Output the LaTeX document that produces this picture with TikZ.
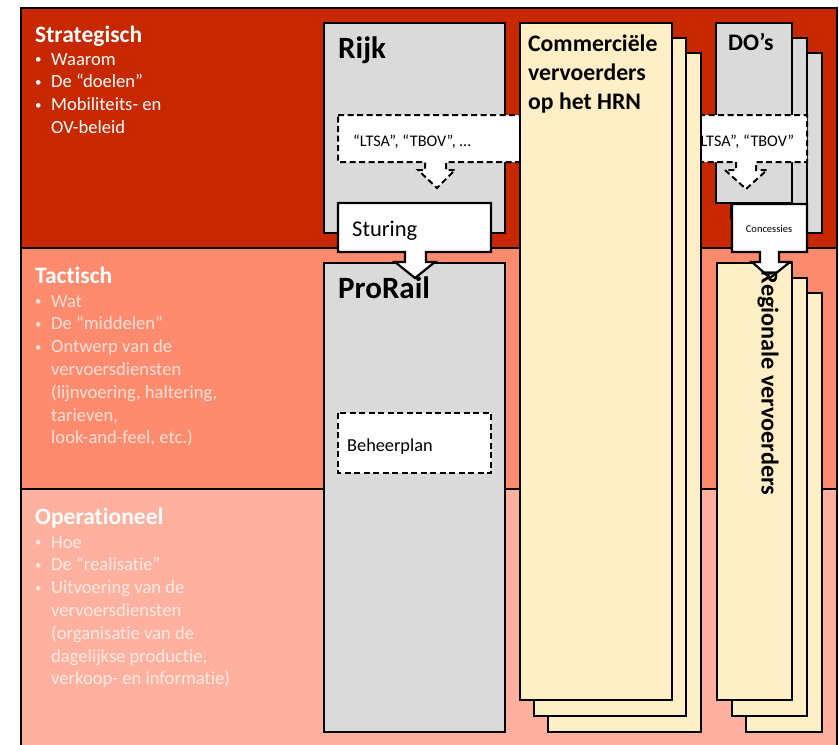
\documentclass[tikz,border=0pt]{standalone}
\usepackage{fontspec}
\setmainfont{Carlito}[Ligatures=NoCommon]

\definecolor{strategischrood}{HTML}{C82800}
\definecolor{tactischrood}{HTML}{FF8B6F}
\definecolor{operationeelrood}{HTML}{FFB09E}
\definecolor{vakgrijs}{HTML}{DADADA}
\definecolor{bladgeel}{HTML}{FFEFC6}
\definecolor{tactischtekst}{HTML}{FFE0D6}
\definecolor{operationeeltekst}{HTML}{FFEBE5}

\newcommand{\punt}[1]{\makebox[16pt][l]{\raisebox{1.5pt}{\fontsize{13}{13}\selectfont\textbullet}}#1}
\newcommand{\verder}[1]{\hspace*{16pt}#1}

\tikzset{
    laag/.style={draw=black, line width=2pt},
    vak/.style={draw=black, line width=2.2pt, fill=vakgrijs},
    blad/.style={draw=black, line width=2.2pt, fill=bladgeel},
    kader/.style={draw=black, line width=2pt, dash pattern=on 6pt off 3.5pt, fill=white},
    wit/.style={draw=black, line width=2.2pt, fill=white},
    kop/.style={inner sep=0pt, anchor=base west, text=white, font=\fontsize{23.5}{23}\selectfont\bfseries},
    lijst/.style={inner sep=0pt, anchor=base west, align=left, font=\fontsize{18.6}{22.8}\selectfont},
    titel/.style={inner sep=0pt, anchor=base west, font=\fontsize{31}{31}\selectfont\bfseries},
    naam/.style={inner sep=0pt, anchor=base west, align=left, font=\fontsize{23.7}{29}\selectfont\bfseries},
    tekst/.style={inner sep=0pt, anchor=base west}
}

\begin{document}
\begin{tikzpicture}[x=1pt, y=-1pt]
    \useasboundingbox (0,0) rectangle (839,745);
    \clip (0,0) rectangle (839,745);

    \draw[laag, fill=strategischrood] (21,8) rectangle (837,248);
    \draw[laag, fill=tactischrood] (21,248) rectangle (837,489);
    \draw[laag, fill=operationeelrood] (21,489) rectangle (837,760);

    \node[kop] (strategisch) at (35,42) {Strategisch};
    \node[lijst, text=white] (strategischlijst) at (35,133.4) {\punt{Waarom}\\\punt{De “doelen”}\\\punt{Mobiliteits- en}\\\verder{OV-beleid}};

    \node[kop] (tactisch) at (35,283) {Tactisch};
    \node[lijst, text=tactischtekst] (tactischlijst) at (35,443.8) {\punt{Wat}\\\punt{De “middelen”}\\\punt{Ontwerp van de}\\\verder{vervoersdiensten}\\\verder{(lijnvoering, haltering,}\\\verder{tarieven,}\\\verder{look-and-feel, etc.)}};

    \node[kop] (operationeel) at (35,524) {Operationeel};
    \node[lijst, text=operationeeltekst] (operationeellijst) at (35,684.8) {\punt{Hoe}\\\punt{De “realisatie”}\\\punt{Uitvoering van de}\\\verder{vervoersdiensten}\\\verder{(organisatie van de}\\\verder{dagelijkse productie,}\\\verder{verkoop- en informatie)}};

    \draw[vak] (324,23) rectangle (505,233);
    \node[titel] (rijk) at (338,58) {Rijk};
    \draw[vak] (324,263) rectangle (505,732);
    \node[titel] (prorail) at (338,298) {ProRail};

    \draw[vak] (746,53) rectangle (822,233);
    \draw[vak] (731,38) rectangle (807,218);
    \draw[vak] (716,23) rectangle (792,203);
    \node[naam] (dos) at (728,50) {DO’s};

    \draw[blad] (746,293) rectangle (822,732);
    \draw[blad] (732,278) rectangle (807,716);
    \draw[blad] (717,263) rectangle (792,700);

    \draw[kader] (338,115) -- (520,115) -- (520,162) -- (446,162) -- (446,170) -- (455,170) -- (437,188) -- (418,170) -- (425,170) -- (425,162) -- (338,162) -- cycle;
    \node[tekst, font=\fontsize{16.2}{16}\selectfont] (ltsarijk) at (353,146) {“LTSA”, “TBOV”, …};

    \draw[kader] (680,115) -- (807,115) -- (807,162) -- (756,162) -- (756,170) -- (767,170) -- (746,189) -- (725,170) -- (736,170) -- (736,162) -- (680,162) -- cycle;
    \node[inner sep=0pt, anchor=base, font=\fontsize{16.2}{16}\selectfont] (ltsados) at (744,146) {“LTSA”, “TBOV”};

    \draw[blad] (548,53) rectangle (701,732);
    \draw[blad] (534,38) rectangle (686,716);
    \draw[blad] (520,23) rectangle (672,700);
    \node[naam] (commercieel) at (528,109) {Commerciële\\vervoerders\\op het HRN};

    \draw[wit] (338,203) -- (491,203) -- (491,252) -- (426,252) -- (426,262) -- (435,262) -- (415,278) -- (395,262) -- (405,262) -- (405,252) -- (338,252) -- cycle;
    \node[tekst, font=\fontsize{22.5}{22}\selectfont] (sturing) at (352,236) {Sturing};

    \draw[wit] (732,204) -- (807,204) -- (807,252) -- (779,252) -- (779,262) -- (790,262) -- (770,278) -- (752,262) -- (760,262) -- (760,252) -- (732,252) -- cycle;
    \node[inner sep=0pt, font=\fontsize{10.5}{11}\selectfont] (concessies) at (769,229) {Concessies};

    \node[inner sep=0pt, rotate=-90, font=\fontsize{24.2}{24}\selectfont\bfseries] (regionaal) at (768,383) {Regionale vervoerders};

    \draw[kader] (338,413) rectangle (491,473);
    \node[tekst, font=\fontsize{18.3}{18}\selectfont] (beheerplan) at (347,451) {Beheerplan};
\end{tikzpicture}
\end{document}
